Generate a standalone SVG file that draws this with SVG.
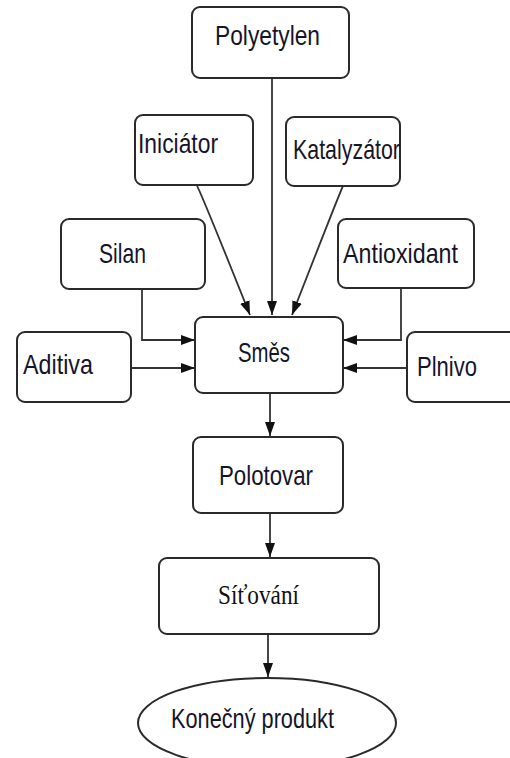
<svg xmlns="http://www.w3.org/2000/svg" width="510" height="758" viewBox="0 0 510 758">
<style>
.box{fill:#fff;stroke:#2a2a2a;stroke-width:2}
.t{font-family:"Liberation Sans",Arial,sans-serif;font-size:28px;fill:#15152a}
.s{font-family:"Liberation Serif","Times New Roman",serif;font-size:27px;fill:#111}
.c{fill:none;stroke:#333;stroke-width:1.8}
</style>
<defs>
<marker id="ahb" viewBox="0 0 14 10" refX="14" refY="5" markerWidth="14" markerHeight="11" markerUnits="userSpaceOnUse" orient="auto">
<path d="M0,0 L14,5 L0,10 z" fill="#111"/>
</marker>
</defs>
<rect width="510" height="758" fill="#fff"/>
<g id="connectors">
<path class="c" d="M272,78 V315" marker-end="url(#ahb)"/>
<path class="c" d="M197,186 Q200,190 250,315" marker-end="url(#ahb)"/>
<path class="c" d="M343,186 Q340,192 292,315" marker-end="url(#ahb)"/>
<path class="c" d="M142,289 V340 H195" marker-end="url(#ahb)"/>
<path class="c" d="M401,288 V340 H343" marker-end="url(#ahb)"/>
<path class="c" d="M131,368 H195" marker-end="url(#ahb)"/>
<path class="c" d="M407,368 H343" marker-end="url(#ahb)"/>
<path class="c" d="M270,393 V436" marker-end="url(#ahb)"/>
<path class="c" d="M270,513 V557" marker-end="url(#ahb)"/>
<path class="c" d="M268,634 V677" marker-end="url(#ahb)"/>
</g>
<g id="polyetylen">
<rect class="box" x="192" y="7" width="157" height="71" rx="8"/>
<text class="t" x="215" y="45" textLength="105" lengthAdjust="spacingAndGlyphs">Polyetylen</text>
</g>
<g id="iniciator">
<rect class="box" x="135" y="115" width="118" height="70" rx="8"/>
<text class="t" x="138" y="153" textLength="80" lengthAdjust="spacingAndGlyphs">Iniciátor</text>
</g>
<g id="katalyzator">
<rect class="box" x="286" y="117" width="114" height="69" rx="8"/>
<text class="t" x="293" y="159" textLength="107" lengthAdjust="spacingAndGlyphs">Katalyzátor</text>
</g>
<g id="silan">
<rect class="box" x="61" y="219" width="144" height="70" rx="8"/>
<text class="t" x="99" y="263" textLength="47" lengthAdjust="spacingAndGlyphs">Silan</text>
</g>
<g id="antioxidant">
<rect class="box" x="338" y="219" width="136" height="69" rx="8"/>
<text class="t" x="343" y="263" textLength="115" lengthAdjust="spacingAndGlyphs">Antioxidant</text>
</g>
<g id="aditiva">
<rect class="box" x="17" y="332" width="114" height="70" rx="8"/>
<text class="t" x="23" y="374" textLength="70" lengthAdjust="spacingAndGlyphs">Aditiva</text>
</g>
<g id="smes">
<rect class="box" x="195" y="317" width="148" height="76" rx="8"/>
<text class="t" x="238" y="362" textLength="52" lengthAdjust="spacingAndGlyphs">Směs</text>
</g>
<g id="plnivo">
<rect class="box" x="407" y="332" width="112" height="70" rx="8"/>
<text class="t" x="417" y="376" textLength="60" lengthAdjust="spacingAndGlyphs">Plnivo</text>
</g>
<g id="polotovar">
<rect class="box" x="193" y="437" width="150" height="76" rx="8"/>
<text class="t" x="219" y="485" textLength="94" lengthAdjust="spacingAndGlyphs">Polotovar</text>
</g>
<g id="sitovani">
<rect class="box" x="159" y="558" width="220" height="76" rx="8"/>
<text class="s" x="218" y="604" textLength="81" lengthAdjust="spacingAndGlyphs">Síťování</text>
</g>
<g id="konecny-produkt">
<ellipse class="box" cx="267" cy="723" rx="129" ry="45"/>
<text class="t" x="171" y="728" textLength="163" lengthAdjust="spacingAndGlyphs">Konečný produkt</text>
</g>
</svg>
